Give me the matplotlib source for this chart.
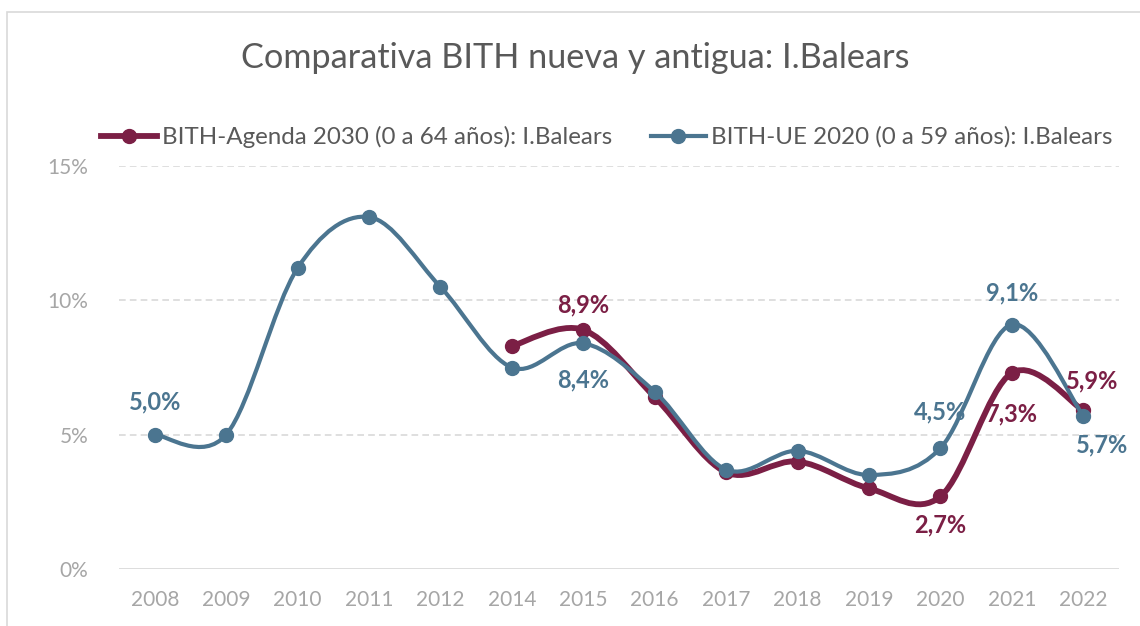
import matplotlib
matplotlib.use("Agg")
import matplotlib.pyplot as plt
from matplotlib.path import Path
from matplotlib.patches import PathPatch, Rectangle
from matplotlib.lines import Line2D
import numpy as np

plt.rcParams['font.family'] = ['Lato', 'DejaVu Sans']

years = ['2008', '2009', '2010', '2011', '2012', '2014', '2015', '2016',
         '2017', '2018', '2019', '2020', '2021', '2022']
# BITH-UE 2020 (0 a 59 años)
ue2020 = [5.0, 5.0, 11.2, 13.1, 10.5, 7.5, 8.4, 6.6, 3.7, 4.4, 3.5, 4.5, 9.1, 5.7]
# BITH-Agenda 2030 (0 a 64 años), starts in 2014
agenda = [None, None, None, None, None, 8.3, 8.9, 6.4, 3.6, 4.0, 3.0, 2.7, 7.3, 5.9]

label_agenda = 'BITH-Agenda 2030 (0 a 64 años): I.Balears'
label_ue = 'BITH-UE 2020 (0 a 59 años): I.Balears'

RED = '#7B1F45'
BLUE = '#4B7590'
GRID = '#D9D9D9'
TXT = '#595959'
TICK = '#A6A6A6'


def smooth_path(xs, ys):
    # excel-like smoothed line: bezier with catmull-rom control points
    pts = np.column_stack([xs, ys])
    verts = [tuple(pts[0])]
    codes = [Path.MOVETO]
    n = len(pts)
    for i in range(n - 1):
        p0 = pts[i - 1] if i > 0 else pts[i]
        p1 = pts[i]
        p2 = pts[i + 1]
        p3 = pts[i + 2] if i + 2 < n else pts[i + 1]
        c1 = p1 + (p2 - p0) / 6.0
        c2 = p2 - (p3 - p1) / 6.0
        verts += [tuple(c1), tuple(c2), tuple(p2)]
        codes += [Path.CURVE4] * 3
    return Path(verts, codes)


fig = plt.figure(figsize=(11.4, 6.26), dpi=100)
fig.patches.append(Rectangle((7 / 1140, -0.1), 1.2, 1 - 12 / 626 + 0.1,
                             transform=fig.transFigure, fill=False,
                             edgecolor=GRID, lw=1.2))
ax = fig.add_axes([119 / 1140, 57 / 626, 1000 / 1140, 403 / 626])

x = np.arange(len(years))

for y in [5, 10, 15]:
    ax.axhline(y, color=GRID, lw=1.2, ls=(0, (4, 2.5)), zorder=1)
ax.axhline(0, color=GRID, lw=2, zorder=1)

ax_x = [i for i, v in enumerate(agenda) if v is not None]
ax_y = [v for v in agenda if v is not None]
ax.add_patch(PathPatch(smooth_path(ax_x, ax_y), fill=False, edgecolor=RED,
                       lw=4.2, capstyle='round', zorder=3))
ax.plot(ax_x, ax_y, 'o', color=RED, ms=10, zorder=4)

ax.add_patch(PathPatch(smooth_path(x, ue2020), fill=False, edgecolor=BLUE,
                       lw=3, capstyle='round', zorder=5))
ax.plot(x, ue2020, 'o', color=BLUE, ms=10, zorder=6)

ax.set_xlim(-0.5, len(years) - 0.5)
ax.set_ylim(0, 15)
ax.set_xticks(x)
ax.set_xticklabels(years)
ax.set_yticks([0, 5, 10, 15])
ax.set_yticklabels(['0%', '5%', '10%', '15%'])
ax.tick_params(length=0, labelsize=15, colors=TICK, pad=15)
ax.tick_params(axis='y', pad=22)
for s in ax.spines.values():
    s.set_visible(False)


def fmt(v):
    return ('%.1f%%' % v).replace('.', ',')


# data labels: (series, index, dx, dy) in pixels
labels = [
    (ue2020, 0, 0, 33, BLUE),
    (agenda, 6, 0, 25, RED),
    (ue2020, 6, 0, -37, BLUE),
    (agenda, 11, 0, -28, RED),
    (ue2020, 11, 0, 36, BLUE),
    (ue2020, 12, 0, 32, BLUE),
    (agenda, 12, 0, -41, RED),
    (agenda, 13, 9, 30, RED),
    (ue2020, 13, 19, -29, BLUE),
]
for ser, i, dx, dy, col in labels:
    ax.annotate(fmt(ser[i]), (i, ser[i]), xytext=(dx, dy),
                textcoords='offset pixels', ha='center', va='center',
                fontsize=17, fontweight='bold', color=col, zorder=7)

fig.text(575 / 1140, 1 - 58 / 626, 'Comparativa BITH nueva y antigua: I.Balears',
         ha='center', va='center', fontsize=24.7, color=TXT)

handles = [Line2D([], [], color=RED, lw=4.2, marker='o', ms=10),
           Line2D([], [], color=BLUE, lw=3, marker='o', ms=10)]
fig.legend(handles, [label_agenda, label_ue], loc='center',
           bbox_to_anchor=(607 / 1140, 1 - 137 / 626), ncol=2, frameon=False,
           fontsize=17.4, labelcolor=TXT, handlelength=2.3, handletextpad=0.2,
           columnspacing=1.6)

fig.savefig('out.png', dpi=100)
